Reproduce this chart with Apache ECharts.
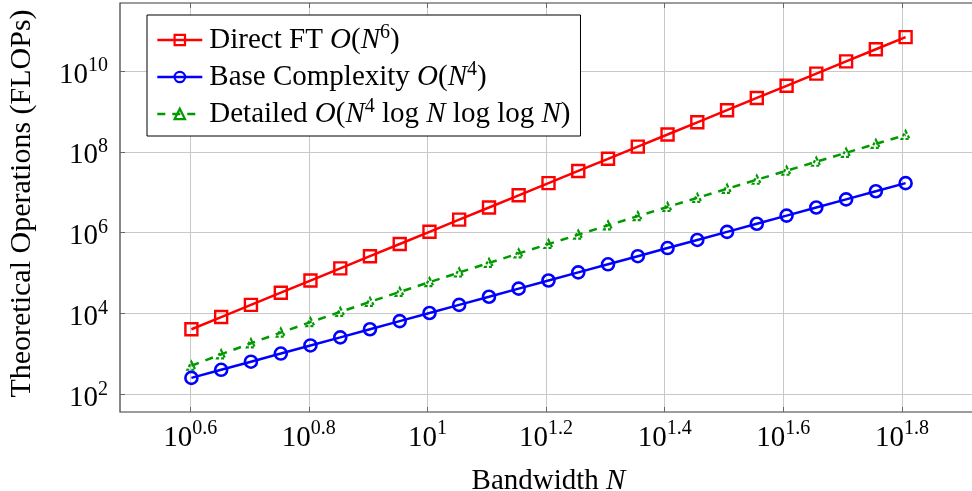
<!DOCTYPE html>
<html>
<head>
<meta charset="utf-8">
<script src="https://cdn.jsdelivr.net/npm/echarts@6/dist/echarts.min.js"></script>
<style>
  html, body { margin: 0; padding: 0; background: #fff; overflow: hidden; }
  #chart { width: 977px; height: 491px; }
</style>
</head>
<body>
<div id="chart"></div>
<script>
// bandwidth N for every plotted point
var bandwidth = [4, 4.49, 5.04, 5.66, 6.35, 7.13, 8, 8.98, 10.08, 11.31, 12.7, 14.25, 16,
    17.96, 20.16, 22.63, 25.4, 28.51, 32, 35.92, 40.32, 45.25, 50.8, 57.02, 64];

// operation counts
var directFT = [4096, 8192, 16384, 32768, 65536, 131072, 262144, 524288, 1.05e6, 2.1e6,
    4.19e6, 8.39e6, 1.68e7, 3.36e7, 6.71e7, 1.34e8, 2.68e8, 5.37e8, 1.07e9, 2.15e9,
    4.29e9, 8.59e9, 1.72e10, 3.44e10, 6.87e10];
var baseComplexity = [256, 406, 645, 1024, 1626, 2580, 4096, 6502, 10321, 16384, 26008,
    41285, 65536, 104032, 165140, 262144, 416128, 660561, 1048576, 1664511, 2642246,
    4194304, 6658043, 10568984, 16777216];
var detailed = [512, 982, 1840, 3384, 6134, 10985, 19476, 34241, 59759, 103644, 178760,
    306800, 524288, 892470, 1513870, 2559730, 4315750, 7257060, 12173540, 20375300,
    34032000, 56735700, 94418000, 156862000, 260215000];

// tick exponents (labels are 10^e)
var xTickExps = [0.6, 0.8, 1, 1.2, 1.4, 1.6, 1.8];
var yTickExps = [2, 4, 6, 8, 10];

var seriesNames = ['Direct FT', 'Base Complexity', 'Detailed'];

var FONT = 'Liberation Serif';

function pairs(xs, ys) {
    var out = [];
    for (var i = 0; i < xs.length; i++) {
        out.push([xs[i], ys[i]]);
    }
    return out;
}

function powList(exps) {
    return exps.map(function (e) { return Math.pow(10, e); });
}

function tickFormatter(v) {
    var e = Math.round(Math.log10(v) * 10) / 10;
    return '{b|10}{s|' + e + '}';
}

// main digits pushed down a little, exponent raised
var tickRich = {
    b: { fontFamily: FONT, fontSize: 29, color: '#000', lineHeight: 30, padding: [8, 0, 0, 0] },
    s: { fontFamily: FONT, fontSize: 20, color: '#000', lineHeight: 20, padding: [0, 0, 10, 0] }
};

var legendRich = {
    t: { fontFamily: FONT, fontSize: 29, color: '#000', lineHeight: 30 },
    i: { fontFamily: FONT, fontSize: 29, fontStyle: 'italic', color: '#000', lineHeight: 30 },
    s: { fontFamily: FONT, fontSize: 20, color: '#000', lineHeight: 16, padding: [0, 0, 14, 0] }
};

var legendText = {
    'Direct FT': '{t|Direct FT }{i|O}{t|(}{i|N}{s|6}{t|)}',
    'Base Complexity': '{t|Base Complexity }{i|O}{t|(}{i|N}{s|4}{t|)}',
    'Detailed': '{t|Detailed }{i|O}{t|(}{i|N}{s|4}{t| log }{i|N}{t| log log }{i|N}{t|)}'
};

var xMin = 3.0317, xMax = 84.44;     // 10^0.4817 .. 10^1.9266
var yMin = 36.75, yMax = 4.786e11;   // 10^1.5654 .. 10^11.68

var tickStyle = { show: true, inside: true, length: 5, lineStyle: { color: '#666', width: 1 } };

var chart = echarts.init(document.getElementById('chart'), null, { renderer: 'canvas' });

var option = {
    animation: false,
    backgroundColor: '#fff',
    grid: {
        left: 120, top: 3, right: 0, bottom: 79,
        outerBoundsMode: 'none',
        containLabel: false,
        show: true, borderColor: '#3a3a3a', borderWidth: 1.2, backgroundColor: 'transparent'
    },
    legend: {
        orient: 'vertical',
        left: 147, top: 15,
        padding: [8, 10, 5, 9],
        itemGap: 3,
        itemWidth: 45, itemHeight: 13,
        backgroundColor: '#fff',
        borderColor: '#000', borderWidth: 1, borderRadius: 0,
        data: seriesNames,
        formatter: function (name) { return legendText[name]; },
        lineStyle: { width: 2.6 },
        itemStyle: { borderWidth: 2.2 },
        textStyle: { rich: legendRich, padding: [0, 0, 0, 2] }
    },
    xAxis: [{
        type: 'log', logBase: 10, min: xMin, max: xMax,
        position: 'bottom',
        name: '{a|Bandwidth }{i|N}',
        nameLocation: 'middle', nameGap: 55,
        nameTextStyle: {
            rich: {
                a: { fontFamily: FONT, fontSize: 29, color: '#000' },
                i: { fontFamily: FONT, fontSize: 29, fontStyle: 'italic', color: '#000' }
            }
        },
        axisLine: { show: false },
        axisTick: Object.assign({ customValues: powList(xTickExps) }, tickStyle),
        axisLabel: { customValues: powList(xTickExps), formatter: tickFormatter, rich: tickRich, margin: 7 },
        splitLine: { show: true, lineStyle: { color: '#c8c8c8', width: 1 } },
        minorTick: { show: false }, minorSplitLine: { show: false }
    }, {
        type: 'log', logBase: 10, min: xMin, max: xMax,
        position: 'top',
        axisLine: { show: false },
        axisTick: Object.assign({ customValues: powList(xTickExps) }, tickStyle),
        axisLabel: { show: false },
        splitLine: { show: false }
    }],
    yAxis: [{
        type: 'log', logBase: 10, min: yMin, max: yMax,
        position: 'left',
        name: 'Theoretical Operations (FLOPs)',
        nameLocation: 'middle', nameGap: 83,
        nameTextStyle: { fontFamily: FONT, fontSize: 30, color: '#000', padding: [0, 0, 0, 8] },
        axisLine: { show: false },
        axisTick: Object.assign({ customValues: powList(yTickExps) }, tickStyle),
        axisLabel: { customValues: powList(yTickExps), formatter: tickFormatter, rich: tickRich, margin: 12 },
        splitLine: { show: true, lineStyle: { color: '#c8c8c8', width: 1 } },
        minorTick: { show: false }, minorSplitLine: { show: false }
    }, {
        type: 'log', logBase: 10, min: yMin, max: yMax,
        position: 'right',
        axisLine: { show: false },
        axisTick: Object.assign({ customValues: powList(yTickExps) }, tickStyle),
        axisLabel: { show: false },
        splitLine: { show: false }
    }],
    series: [{
        name: 'Direct FT',
        type: 'line',
        data: pairs(bandwidth, directFT),
        symbol: 'rect', symbolSize: 12,
        lineStyle: { color: '#ff0000', width: 2.5 },
        itemStyle: { color: 'rgba(255,255,255,0)', borderColor: '#ff0000', borderWidth: 2.4 },
        z: 4
    }, {
        name: 'Base Complexity',
        type: 'line',
        data: pairs(bandwidth, baseComplexity),
        symbol: 'circle', symbolSize: 12,
        lineStyle: { color: '#0000ff', width: 2.5 },
        itemStyle: { color: 'rgba(255,255,255,0)', borderColor: '#0000ff', borderWidth: 2.6 },
        z: 3
    }, {
        name: 'Detailed',
        type: 'line',
        data: pairs(bandwidth, detailed),
        symbol: 'triangle', symbolSize: 8,
        lineStyle: { color: '#009900', width: 2.5, type: [8, 7] },
        itemStyle: { color: 'rgba(255,255,255,0)', borderColor: '#009900', borderWidth: 2.2, borderType: [3, 2] },
        z: 2
    }]
};

chart.setOption(option);
</script>
</body>
</html>
